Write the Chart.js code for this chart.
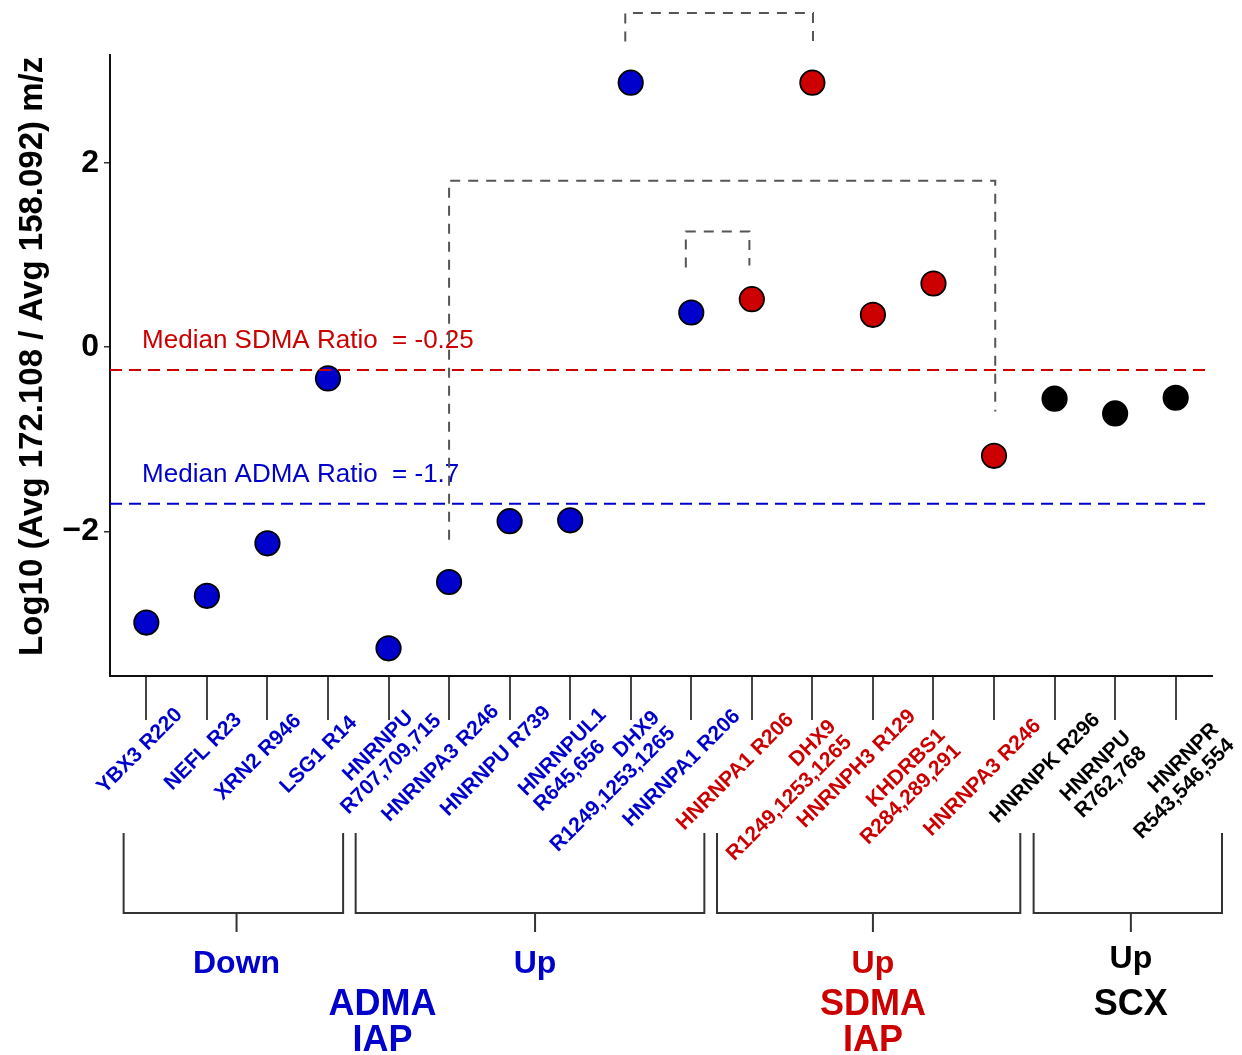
<!DOCTYPE html>
<html>
<head>
<meta charset="utf-8">
<script src="https://cdn.jsdelivr.net/npm/chart.js"></script>
<style>
html,body{margin:0;padding:0;background:#fff;}
#wrap{width:1242px;height:1055px;position:relative;}
</style>
</head>
<body>
<div id="wrap"><canvas id="c"></canvas></div>
<script>
// ---------- data ----------
const categories = [
  "YBX3 R220", "NEFL R23", "XRN2 R946", "LSG1 R14", "HNRNPU   \nR707,709,715",
  "HNRNPA3 R246", "HNRNPU R739", "HNRNPUL1\nR645,656    ", "DHX9\nR1249,1253,1265", "HNRNPA1 R206",
  "HNRNPA1 R206", "DHX9\nR1249,1253,1265", "HNRNPH3 R129", "KHDRBS1\nR284,289,291", "HNRNPA3 R246",
  "HNRNPK R296", "HNRNPU\nR762,768", "HNRNPR\nR543,546,554"
];
const values = [-2.99, -2.70, -2.13, -0.34, -3.27, -2.55, -1.89, -1.88, 2.87, 0.375,
                0.52, 2.87, 0.35, 0.69, -1.18, -0.56, -0.72, -0.55];
const methods = ["ADMA","ADMA","ADMA","ADMA","ADMA","ADMA","ADMA","ADMA","ADMA","ADMA",
                 "SDMA","SDMA","SDMA","SDMA","SDMA","SCX","SCX","SCX"];
const medianSDMA = -0.25;
const medianADMA = -1.7;
const yTicks = [-2, 0, 2];
const yTitle = "  Log10 (Avg 172.108 / Avg 158.092) m/z";

// comparison brackets (category index, value units)
const comparisons = [
  {x1: 7.91, x2: 11.01, top: 3.625, y1: 3.317, y2: 3.245},
  {x1: 5.0,  x2: 14.02, top: 1.805, y1: -2.09, y2: -0.70},
  {x1: 8.91, x2: 9.96,  top: 1.254, y1: 0.863, y2: 0.885}
];
// grouping brackets below the axis (category index units)
const groupBrackets = [
  {from: -0.375, to: 3.25,   mid: 1.49,  label: "Down", method: "ADMA"},
  {from: 3.457,  to: 9.216,  mid: 6.42,  label: "Up",   method: "ADMA"},
  {from: 9.425,  to: 14.434, mid: 12.0,  label: "Up",   method: "SDMA"},
  {from: 14.654, to: 17.765, mid: 16.26, label: "Up",   method: "SCX"}
];
const methodLabels = [
  {lines: ["ADMA", "IAP"], x: 3.9,   method: "ADMA"},
  {lines: ["SDMA", "IAP"], x: 12.0,  method: "SDMA"},
  {lines: ["SCX"],         x: 16.26, method: "SCX"}
];

// ---------- layout / styles ----------
// rotated tick-label anchors: right end of first line, offset from tick (px) and below axis (px)
const labelAnchors = [
  [32, 35], [30.7, 40], [29.7, 41], [25, 43], [33, 25.4],
  [46, 31.5], [37, 33], [32, 35], [25, 38], [45, 36.5],
  [38, 40], [19.7, 47], [38.7, 36.5], [7.8, 55.7], [43, 46],
  [41.5, 40], [11.7, 58], [39, 50]
];
const COLORS = {ADMA: "#0000CC", SDMA: "#CC0000", SCX: "#000000"};
const FONT = '"Liberation Sans", Arial, Helvetica, sans-serif';
const X_MIN = -0.6, X_MAX = 17.6;

const datasets = [];
datasets.push({
  type: 'line', order: 1, clip: false,
  data: [{x: X_MIN, y: medianSDMA}, {x: X_MAX, y: medianSDMA}],
  borderColor: COLORS.SDMA, borderWidth: 2, borderDash: [12, 7], pointRadius: 0, fill: false
});
datasets.push({
  type: 'line', order: 1, clip: false,
  data: [{x: X_MIN, y: medianADMA}, {x: X_MAX, y: medianADMA}],
  borderColor: COLORS.ADMA, borderWidth: 2, borderDash: [12, 7], pointRadius: 0, fill: false
});
comparisons.forEach(c => {
  datasets.push({
    type: 'line', order: 1, clip: false,
    data: [{x: c.x1, y: c.y1}, {x: c.x1, y: c.top}, {x: c.x2, y: c.top}, {x: c.x2, y: c.y2}],
    borderColor: "#555555", borderWidth: 2, borderDash: [10, 8], pointRadius: 0, fill: false,
    tension: 0
  });
});
datasets.push({
  type: 'scatter', order: 2, clip: false,
  data: values.map((v, i) => ({x: i, y: v})),
  pointRadius: 12.2, pointHoverRadius: 12.2,
  pointBackgroundColor: methods.map(m => COLORS[m]),
  pointBorderColor: "#000", pointBorderWidth: 1.8
});

const decorations = {
  id: 'decorations',
  beforeDatasetsDraw(chart) {
    const ctx = chart.ctx, xs = chart.scales.x, ys = chart.scales.y;
    ctx.save();
    ctx.font = '26px ' + FONT;
    ctx.textAlign = 'left'; ctx.textBaseline = 'alphabetic';
    ctx.fillStyle = COLORS.SDMA;
    ctx.fillText("Median SDMA Ratio  = " + medianSDMA, xs.getPixelForValue(-0.07), ys.getPixelForValue(medianSDMA + 0.24));
    ctx.fillStyle = COLORS.ADMA;
    ctx.fillText("Median ADMA Ratio  = " + medianADMA, xs.getPixelForValue(-0.07), ys.getPixelForValue(medianADMA + 0.24));
    ctx.restore();
  },
  afterDraw(chart) {
    const ctx = chart.ctx, xs = chart.scales.x, area = chart.chartArea;
    ctx.save();
    // rotated category labels (right-aligned lines)
    ctx.font = 'bold 21px ' + FONT;
    const lh = 22;
    categories.forEach((c, i) => {
      const lines = c.split('\n');
      const ax = xs.getPixelForValue(i) + labelAnchors[i][0];
      const ay = area.bottom + labelAnchors[i][1];
      ctx.save();
      ctx.translate(ax, ay);
      ctx.rotate(-Math.PI / 4);
      ctx.textAlign = 'right'; ctx.textBaseline = 'middle';
      ctx.fillStyle = COLORS[methods[i]];
      lines.forEach((l, k) => ctx.fillText(l, 0, k * lh + 1));
      ctx.restore();
    });
    // group brackets
    const yTop = area.bottom + 157, yH = area.bottom + 237, yTick = area.bottom + 256;
    ctx.strokeStyle = '#333'; ctx.lineWidth = 2;
    groupBrackets.forEach(g => {
      const a = xs.getPixelForValue(g.from), b = xs.getPixelForValue(g.to), m = xs.getPixelForValue(g.mid);
      ctx.beginPath();
      ctx.moveTo(a, yTop); ctx.lineTo(a, yH); ctx.lineTo(b, yH); ctx.lineTo(b, yTop);
      ctx.moveTo(m, yH); ctx.lineTo(m, yTick);
      ctx.stroke();
      ctx.font = 'bold 32px ' + FONT;
      ctx.textAlign = 'center'; ctx.textBaseline = 'alphabetic';
      ctx.fillStyle = COLORS[g.method];
      ctx.fillText(g.label, m, area.bottom + (g.method === 'SCX' ? 292 : 297));
    });
    ctx.font = 'bold 36px ' + FONT;
    methodLabels.forEach(ml => {
      ctx.fillStyle = COLORS[ml.method];
      ml.lines.forEach((l, k) => ctx.fillText(l, xs.getPixelForValue(ml.x), area.bottom + 339 + k * 36));
    });
    ctx.restore();
  }
};

new Chart(document.getElementById('c'), {
  type: 'scatter',
  data: {datasets},
  options: {
    responsive: true, maintainAspectRatio: false, animation: false, events: [],
    layout: {padding: {top: 55, right: 30, bottom: 0, left: 0}},
    plugins: {legend: {display: false}, tooltip: {enabled: false}},
    scales: {
      x: {
        type: 'linear', min: X_MIN, max: X_MAX,
        afterBuildTicks: s => { s.ticks = categories.map((c, i) => ({value: i})); },
        afterFit: s => { s.height = 379; },
        ticks: {display: false},
        grid: {drawOnChartArea: false, drawTicks: true, tickLength: 44, color: '#444', lineWidth: 2},
        border: {display: true, color: '#111', width: 2}
      },
      y: {
        type: 'linear', min: -3.57, max: 3.17,
        afterBuildTicks: s => { s.ticks = yTicks.map(v => ({value: v})); },
        afterFit: s => { s.width = 110; },
        ticks: {
          callback: v => (v < 0 ? '\u2212' + Math.abs(v) : String(v)),
          font: {family: FONT, size: 32, weight: 'bold'}, color: '#000', padding: 5
        },
        grid: {drawOnChartArea: false, drawTicks: true, tickLength: 6, color: '#333', lineWidth: 1.5},
        border: {display: true, color: '#111', width: 2},
        title: {
          display: true, text: yTitle, color: '#000',
          font: {family: FONT, size: 33, weight: 'bold'}, padding: {top: 13, bottom: 0}
        }
      }
    }
  },
  plugins: [decorations]
});
</script>
</body>
</html>
